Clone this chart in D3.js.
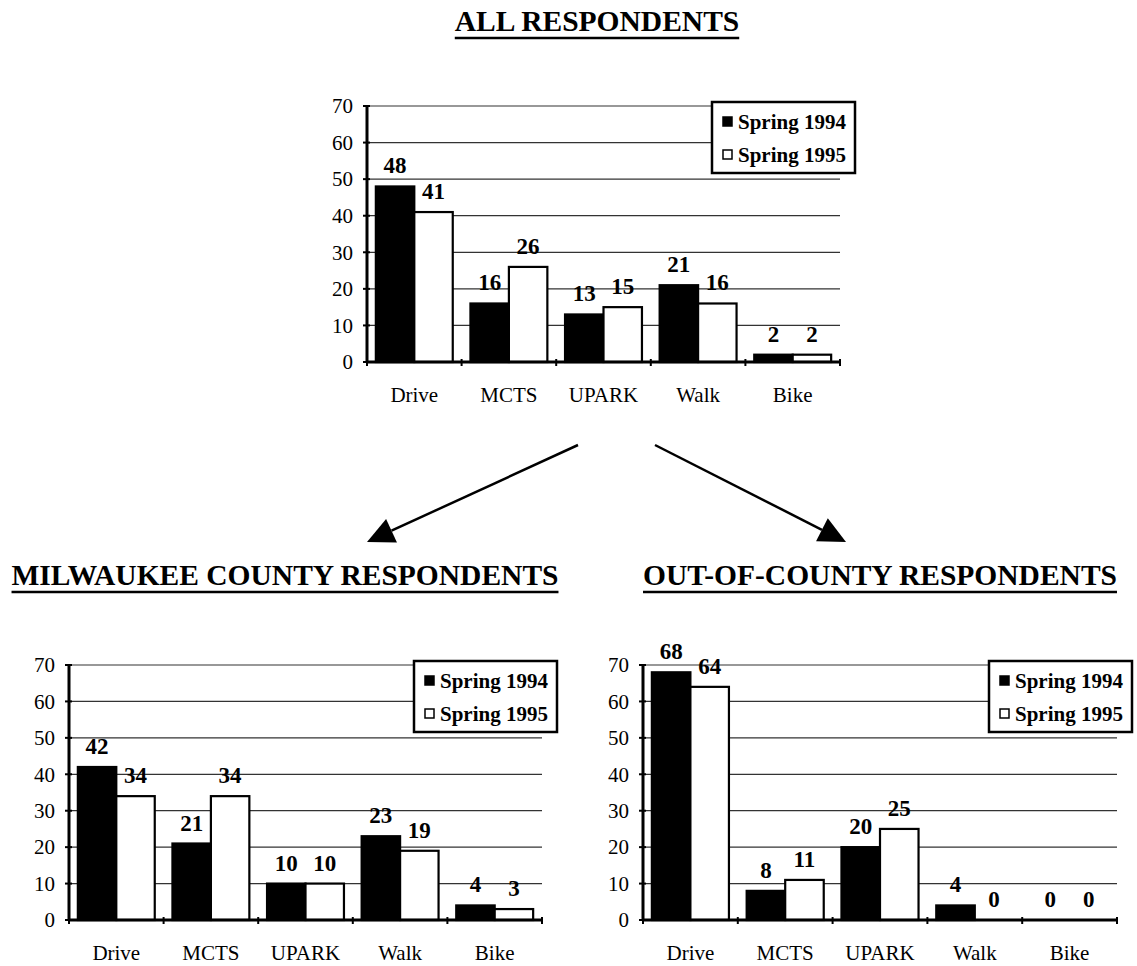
<!DOCTYPE html>
<html>
<head>
<meta charset="utf-8">
<script src="https://cdn.jsdelivr.net/npm/d3@7"></script>
<style>
  body { margin: 0; background: #fff; }
  svg { display: block; }
  text { font-family: "Liberation Serif", "Times New Roman", serif; fill: #000; }
</style>
</head>
<body>
<svg width="1137" height="966"></svg>
<script>
// data
var categories = ["Drive", "MCTS", "UPARK", "Walk", "Bike"];
var seriesNames = ["Spring 1994", "Spring 1995"];
var yTicks = [0, 10, 20, 30, 40, 50, 60, 70];

var allSpring1994 = [48, 16, 13, 21, 2];
var allSpring1995 = [41, 26, 15, 16, 2];

var milwaukeeSpring1994 = [42, 21, 10, 23, 4];
var milwaukeeSpring1995 = [34, 34, 10, 19, 3];

var outCountySpring1994 = [68, 8, 20, 4, 0];
var outCountySpring1995 = [64, 11, 25, 0, 0];

var svg = d3.select("svg");

svg.append("rect")
  .attr("width", 1137)
  .attr("height", 966)
  .attr("fill", "#fff");

function title(text, cx, y){
  var t = svg.append("text")
    .attr("x", cx)
    .attr("y", y)
    .attr("text-anchor", "middle")
    .style("font-size", "29.5px")
    .style("font-weight", "bold")
    .text(text);
  var w = t.node().getComputedTextLength();
  svg.append("line")
    .attr("x1", cx - w / 2)
    .attr("x2", cx + w / 2)
    .attr("y1", y + 7)
    .attr("y2", y + 7)
    .attr("stroke", "#000")
    .attr("stroke-width", 2.5);
}

function barChart(cfg){
  var g = svg.append("g");

  var x0 = d3.scaleBand()
      .domain(categories)
      .range([cfg.left, cfg.right])
      .padding(0);

  var x1 = d3.scaleBand()
      .domain(seriesNames)
      .range([0, x0.bandwidth()])
      .paddingInner(0)
      .paddingOuter(0.23);

  var y = d3.scaleLinear()
      .domain([0, 70])
      .range([cfg.bottom, cfg.top]);

  var rows = categories.map(function(c, i){
    return {cat: c, values: [cfg.s94[i], cfg.s95[i]]};
  });

  // gridlines
  g.selectAll(".grid")
    .data(yTicks.filter(function(d){ return d > 0; }))
    .enter().append("line")
      .attr("x1", cfg.left)
      .attr("x2", cfg.right)
      .attr("y1", function(d){ return y(d); })
      .attr("y2", function(d){ return y(d); })
      .attr("stroke", "#333")
      .attr("stroke-width", 1.2);

  var group = g.selectAll(".grp")
    .data(rows)
    .enter().append("g")
      .attr("transform", function(d){ return "translate(" + x0(d.cat) + ",0)"; });

  group.selectAll("rect")
    .data(function(d){
      return d.values.map(function(v, i){ return {name: seriesNames[i], value: v}; });
    })
    .enter().append("rect")
      .attr("x", function(d){ return x1(d.name); })
      .attr("y", function(d){ return y(d.value); })
      .attr("width", x1.bandwidth())
      .attr("height", function(d){ return y(0) - y(d.value); })
      .attr("fill", function(d, i){ return i == 0 ? "#000" : "#fff"; })
      .attr("stroke", "#000")
      .attr("stroke-width", 2.2);

  // y axis
  var yAxis = d3.axisLeft(y)
      .tickValues(yTicks)
      .tickSize(0)
      .tickPadding(14);

  var ya = g.append("g")
      .attr("transform", "translate(" + cfg.left + ",0)")
      .call(yAxis);
  ya.select(".domain").remove();
  ya.selectAll("text")
    .style("font-size", "21px")
    .style("font-family", "'Liberation Serif', 'Times New Roman', serif");

  g.selectAll(".ytick")
    .data(yTicks)
    .enter().append("line")
      .attr("x1", cfg.left - 4)
      .attr("x2", cfg.left + 3)
      .attr("y1", function(d){ return y(d); })
      .attr("y2", function(d){ return y(d); })
      .attr("stroke", "#000")
      .attr("stroke-width", 2);

  g.append("line")
    .attr("x1", cfg.left)
    .attr("x2", cfg.left)
    .attr("y1", y(70) - 1)
    .attr("y2", y(0) + 1)
    .attr("stroke", "#000")
    .attr("stroke-width", 3);

  // x axis
  var xBounds = categories.map(function(c){ return x0(c); }).concat([cfg.right]);

  g.append("line")
    .attr("x1", cfg.left)
    .attr("x2", cfg.right)
    .attr("y1", y(0))
    .attr("y2", y(0))
    .attr("stroke", "#000")
    .attr("stroke-width", 3);

  g.selectAll(".xtick")
    .data(xBounds)
    .enter().append("line")
      .attr("x1", function(d){ return d; })
      .attr("x2", function(d){ return d; })
      .attr("y1", y(0) - 3)
      .attr("y2", y(0) + 4)
      .attr("stroke", "#000")
      .attr("stroke-width", 2);

  g.selectAll(".xlabel")
    .data(categories)
    .enter().append("text")
      .attr("x", function(d){ return x0(d) + x0.bandwidth() / 2; })
      .attr("y", y(0) + 40)
      .attr("text-anchor", "middle")
      .style("font-size", "21px")
      .text(function(d){ return d; });

  // value labels
  group.selectAll(".val")
    .data(function(d){
      return d.values.map(function(v, i){ return {name: seriesNames[i], value: v}; });
    })
    .enter().append("text")
      .attr("x", function(d){ return x1(d.name) + x1.bandwidth() / 2; })
      .attr("y", function(d){ return y(d.value) - 13; })
      .attr("text-anchor", "middle")
      .style("font-size", "23px")
      .style("font-weight", "bold")
      .text(function(d){ return d.value; });

  // legend
  var lx = cfg.right + 15 - 143,
      ly = y(70) - 4;

  var legend = g.append("g")
    .attr("transform", "translate(" + lx + "," + ly + ")");

  legend.append("rect")
    .attr("width", 143)
    .attr("height", 71)
    .attr("fill", "#fff")
    .attr("stroke", "#000")
    .attr("stroke-width", 2.5);

  var item = legend.selectAll(".item")
    .data(seriesNames)
    .enter().append("g")
      .attr("transform", function(d, i){ return "translate(0," + (20 + i * 33) + ")"; });

  item.append("rect")
    .attr("x", 11)
    .attr("y", -5)
    .attr("width", 9)
    .attr("height", 9)
    .attr("fill", function(d, i){ return i == 0 ? "#000" : "#fff"; })
    .attr("stroke", "#000")
    .attr("stroke-width", 1.5);

  item.append("text")
    .attr("x", 26)
    .attr("y", 7)
    .style("font-size", "21px")
    .style("font-weight", "bold")
    .text(function(d){ return d; });
}

function arrow(x1, y1, x2, y2){
  var dx = x2 - x1, dy = y2 - y1,
      len = Math.sqrt(dx * dx + dy * dy),
      ux = dx / len, uy = dy / len,
      headLen = 27, headHalf = 13;
  var bx = x2 - ux * headLen, by = y2 - uy * headLen;
  svg.append("line")
    .attr("x1", x1).attr("y1", y1)
    .attr("x2", bx).attr("y2", by)
    .attr("stroke", "#000")
    .attr("stroke-width", 2.5);
  svg.append("polygon")
    .attr("points", [
      [x2, y2],
      [bx - uy * headHalf, by + ux * headHalf],
      [bx + uy * headHalf, by - ux * headHalf]
    ].map(function(p){ return p.join(","); }).join(" "))
    .attr("fill", "#000");
}

title("ALL RESPONDENTS", 597, 31);
barChart({left: 367, right: 840, top: 106, bottom: 362, s94: allSpring1994, s95: allSpring1995});

arrow(578, 445, 367, 542);
arrow(655, 445, 846, 542);

title("MILWAUKEE COUNTY RESPONDENTS", 285, 585);
title("OUT-OF-COUNTY RESPONDENTS", 880, 585);

barChart({left: 69, right: 542, top: 665, bottom: 920, s94: milwaukeeSpring1994, s95: milwaukeeSpring1995});
barChart({left: 643, right: 1117, top: 665, bottom: 920, s94: outCountySpring1994, s95: outCountySpring1995});
</script>
</body>
</html>
